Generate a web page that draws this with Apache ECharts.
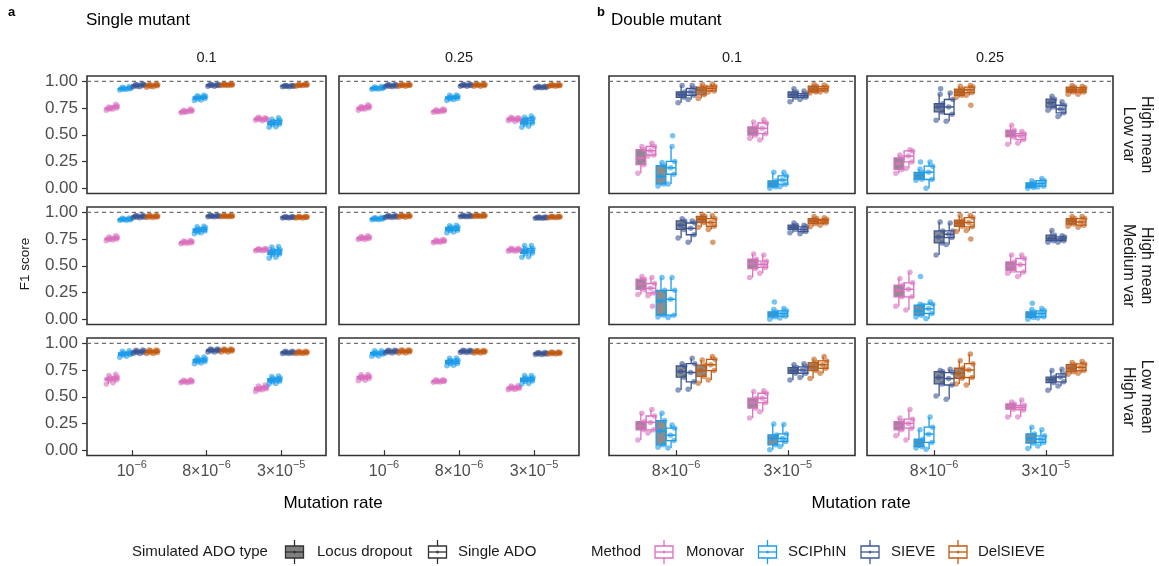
<!DOCTYPE html>
<html>
<head>
<meta charset="utf-8">
<script src="https://cdn.jsdelivr.net/npm/echarts@6/dist/echarts.min.js"></script>
<style>
  html, body { margin: 0; padding: 0; background: #fff; }
  #chart { width: 1159px; height: 566px; }
</style>
</head>
<body>
<div id="chart"></div>
<script>
// ---- categories -------------------------------------------------------
const methods = ['Monovar', 'SCIPhIN', 'SIEVE', 'DelSIEVE'];
const methodColors = ['#DA70BE', '#1B9CEB', '#3C5592', '#C15A12'];
const adoTypes = ['Locus dropout', 'Single ADO'];
const noiseSettings = [['High mean', 'Low var'], ['High mean', 'Medium var'], ['Low mean', 'High var']];
const depthLabels = ['0.1', '0.25'];
const singleRates = [['10', '−6'], ['8×10', '−6'], ['3×10', '−5']];
const doubleRates = [['8×10', '−6'], ['3×10', '−5']];
const yTicks = [0, 0.25, 0.5, 0.75, 1];

// ---- F1 score box statistics: per mutation rate, 8 boxes
// (Monovar LD, Monovar SA, SCIPhIN LD, SCIPhIN SA, SIEVE LD, SIEVE SA, DelSIEVE LD, DelSIEVE SA)
// each box = [lower whisker, Q1, median, Q3, upper whisker]

// Single mutant
const s_hm_lv_01 = [
  [[0.73,0.74,0.745,0.75,0.76],[0.74,0.75,0.76,0.77,0.785],[0.92,0.925,0.93,0.935,0.945],[0.925,0.93,0.935,0.94,0.95],[0.95,0.955,0.96,0.965,0.97],[0.95,0.96,0.965,0.97,0.975],[0.945,0.955,0.96,0.965,0.97],[0.95,0.958,0.963,0.968,0.975]],
  [[0.705,0.71,0.715,0.72,0.73],[0.715,0.72,0.725,0.73,0.74],[0.82,0.835,0.845,0.855,0.865],[0.825,0.84,0.85,0.86,0.87],[0.955,0.96,0.963,0.967,0.972],[0.955,0.96,0.964,0.968,0.973],[0.96,0.963,0.967,0.97,0.976],[0.96,0.964,0.968,0.972,0.978]],
  [[0.635,0.642,0.65,0.655,0.665],[0.63,0.64,0.645,0.65,0.66],[0.57,0.595,0.61,0.625,0.645],[0.575,0.6,0.615,0.635,0.66],[0.95,0.953,0.956,0.959,0.962],[0.95,0.953,0.956,0.959,0.962],[0.955,0.96,0.963,0.966,0.97],[0.96,0.963,0.967,0.97,0.975]]
];
const s_hm_lv_025 = [
  [[0.73,0.74,0.748,0.755,0.765],[0.74,0.75,0.758,0.768,0.78],[0.925,0.93,0.935,0.94,0.948],[0.928,0.933,0.938,0.943,0.952],[0.95,0.955,0.96,0.965,0.97],[0.95,0.955,0.96,0.965,0.97],[0.955,0.96,0.963,0.967,0.972],[0.955,0.96,0.963,0.967,0.972]],
  [[0.71,0.715,0.72,0.725,0.735],[0.715,0.72,0.727,0.733,0.742],[0.82,0.835,0.845,0.855,0.87],[0.83,0.84,0.85,0.86,0.872],[0.955,0.96,0.963,0.967,0.972],[0.955,0.96,0.963,0.967,0.972],[0.955,0.96,0.965,0.97,0.975],[0.955,0.96,0.965,0.97,0.975]],
  [[0.63,0.64,0.648,0.655,0.665],[0.625,0.635,0.645,0.652,0.66],[0.57,0.6,0.625,0.645,0.665],[0.58,0.61,0.635,0.655,0.675],[0.94,0.943,0.946,0.949,0.953],[0.94,0.943,0.946,0.949,0.953],[0.955,0.958,0.962,0.966,0.97],[0.955,0.958,0.962,0.966,0.97]]
];
const s_hm_mv_01 = [
  [[0.735,0.745,0.75,0.758,0.77],[0.74,0.75,0.758,0.768,0.78],[0.925,0.93,0.934,0.938,0.945],[0.925,0.93,0.935,0.94,0.948],[0.95,0.955,0.96,0.965,0.97],[0.95,0.955,0.96,0.965,0.97],[0.952,0.957,0.962,0.966,0.972],[0.952,0.957,0.962,0.966,0.972]],
  [[0.705,0.712,0.718,0.724,0.732],[0.71,0.716,0.722,0.728,0.736],[0.8,0.815,0.83,0.845,0.865],[0.81,0.825,0.84,0.855,0.87],[0.958,0.962,0.965,0.968,0.972],[0.958,0.962,0.965,0.968,0.972],[0.958,0.962,0.965,0.968,0.973],[0.958,0.962,0.965,0.968,0.973]],
  [[0.64,0.645,0.65,0.655,0.66],[0.64,0.645,0.65,0.656,0.662],[0.57,0.605,0.625,0.645,0.675],[0.58,0.61,0.63,0.65,0.68],[0.948,0.951,0.953,0.956,0.959],[0.948,0.951,0.953,0.956,0.959],[0.948,0.952,0.955,0.958,0.962],[0.948,0.952,0.955,0.958,0.962]]
];
const s_hm_mv_025 = [
  [[0.745,0.752,0.758,0.765,0.775],[0.745,0.755,0.762,0.77,0.78],[0.93,0.935,0.94,0.944,0.95],[0.932,0.937,0.941,0.946,0.952],[0.952,0.957,0.962,0.966,0.97],[0.952,0.957,0.962,0.966,0.97],[0.955,0.96,0.965,0.968,0.972],[0.955,0.96,0.965,0.968,0.972]],
  [[0.715,0.722,0.728,0.734,0.742],[0.72,0.726,0.732,0.738,0.745],[0.81,0.83,0.845,0.86,0.875],[0.815,0.832,0.848,0.862,0.878],[0.958,0.962,0.965,0.968,0.972],[0.958,0.962,0.965,0.968,0.972],[0.96,0.964,0.968,0.971,0.975],[0.96,0.964,0.968,0.971,0.975]],
  [[0.635,0.642,0.65,0.656,0.665],[0.635,0.642,0.648,0.655,0.662],[0.58,0.615,0.635,0.655,0.69],[0.585,0.62,0.64,0.66,0.69],[0.945,0.948,0.95,0.953,0.956],[0.945,0.948,0.95,0.953,0.956],[0.95,0.953,0.957,0.96,0.964],[0.95,0.953,0.957,0.96,0.964]]
];
const s_lm_hv_01 = [
  [[0.62,0.655,0.665,0.675,0.7],[0.63,0.66,0.672,0.685,0.71],[0.87,0.89,0.9,0.91,0.925],[0.88,0.895,0.905,0.915,0.93],[0.905,0.915,0.92,0.928,0.935],[0.905,0.915,0.922,0.93,0.937],[0.905,0.915,0.922,0.93,0.937],[0.905,0.915,0.922,0.93,0.937]],
  [[0.63,0.637,0.642,0.648,0.655],[0.632,0.638,0.644,0.65,0.658],[0.81,0.825,0.837,0.85,0.87],[0.815,0.83,0.842,0.855,0.872],[0.92,0.928,0.935,0.94,0.948],[0.92,0.928,0.935,0.94,0.948],[0.92,0.928,0.935,0.94,0.948],[0.92,0.928,0.935,0.94,0.948]],
  [[0.55,0.565,0.575,0.585,0.6],[0.565,0.575,0.585,0.595,0.61],[0.62,0.64,0.655,0.67,0.69],[0.625,0.645,0.66,0.675,0.695],[0.905,0.91,0.915,0.92,0.926],[0.905,0.91,0.915,0.92,0.926],[0.905,0.91,0.915,0.92,0.925],[0.905,0.91,0.915,0.92,0.925]]
];
const s_lm_hv_025 = [
  [[0.65,0.67,0.68,0.69,0.705],[0.655,0.672,0.682,0.692,0.708],[0.88,0.895,0.905,0.915,0.93],[0.882,0.897,0.907,0.917,0.93],[0.91,0.918,0.923,0.93,0.936],[0.91,0.918,0.923,0.93,0.936],[0.91,0.918,0.925,0.932,0.938],[0.91,0.918,0.925,0.932,0.938]],
  [[0.635,0.64,0.645,0.65,0.658],[0.637,0.642,0.647,0.652,0.66],[0.79,0.81,0.825,0.84,0.86],[0.795,0.812,0.827,0.842,0.862],[0.915,0.92,0.925,0.93,0.935],[0.915,0.92,0.925,0.93,0.935],[0.91,0.917,0.922,0.928,0.934],[0.91,0.917,0.922,0.928,0.934]],
  [[0.565,0.575,0.582,0.59,0.6],[0.568,0.578,0.585,0.592,0.602],[0.62,0.645,0.66,0.675,0.7],[0.625,0.648,0.662,0.678,0.7],[0.895,0.9,0.905,0.91,0.915],[0.895,0.9,0.905,0.91,0.915],[0.9,0.905,0.91,0.915,0.92],[0.9,0.905,0.91,0.915,0.92]]
];

// Double mutant
const d_hm_lv_01 = [
  [[0.14,0.22,0.28,0.36,0.39],[0.30,0.31,0.35,0.39,0.42],[0.02,0.04,0.11,0.21,0.24],[0.04,0.13,0.19,0.25,0.39],[0.80,0.85,0.876,0.90,0.96],[0.83,0.87,0.90,0.933,0.96],[0.84,0.874,0.917,0.946,0.97],[0.90,0.91,0.935,0.955,0.975]],
  [[0.465,0.496,0.54,0.574,0.62],[0.45,0.51,0.56,0.61,0.64],[0.0,0.013,0.04,0.069,0.15],[0.013,0.037,0.076,0.115,0.15],[0.81,0.85,0.875,0.90,0.93],[0.83,0.85,0.866,0.885,0.91],[0.89,0.90,0.925,0.954,0.97],[0.90,0.91,0.93,0.95,0.965]]
];
const d_hm_lv_025 = [
  [[0.14,0.175,0.23,0.284,0.31],[0.185,0.246,0.30,0.349,0.36],[0.075,0.084,0.117,0.147,0.18],[0.0,0.081,0.15,0.206,0.245],[0.636,0.714,0.76,0.79,0.88],[0.627,0.692,0.76,0.83,0.89],[0.85,0.87,0.90,0.926,0.954],[0.87,0.895,0.92,0.946,0.96]],
  [[0.41,0.48,0.515,0.543,0.59],[0.42,0.455,0.49,0.51,0.53],[0.0,0.006,0.028,0.05,0.07],[0.01,0.019,0.044,0.07,0.09],[0.73,0.76,0.80,0.833,0.86],[0.67,0.705,0.74,0.776,0.81],[0.88,0.90,0.92,0.946,0.96],[0.88,0.90,0.92,0.94,0.955]]
];
const d_hm_mv_01 = [
  [[0.23,0.278,0.33,0.374,0.40],[0.22,0.246,0.29,0.334,0.39],[0.02,0.037,0.17,0.27,0.39],[0.016,0.037,0.186,0.27,0.39],[0.76,0.84,0.88,0.92,0.94],[0.72,0.79,0.85,0.90,0.92],[0.86,0.904,0.935,0.963,0.98],[0.84,0.87,0.905,0.942,0.97]],
  [[0.39,0.474,0.52,0.561,0.61],[0.43,0.484,0.513,0.543,0.60],[0.0,0.022,0.046,0.068,0.09],[0.01,0.028,0.053,0.078,0.10],[0.81,0.84,0.86,0.88,0.90],[0.80,0.82,0.84,0.864,0.88],[0.864,0.895,0.92,0.942,0.96],[0.88,0.90,0.92,0.935,0.95]]
];
const d_hm_mv_025 = [
  [[0.122,0.209,0.27,0.318,0.38],[0.085,0.209,0.28,0.34,0.44],[0.02,0.037,0.078,0.13,0.14],[0.005,0.053,0.097,0.14,0.16],[0.60,0.714,0.77,0.826,0.91],[0.70,0.764,0.795,0.826,0.90],[0.82,0.87,0.90,0.926,0.97],[0.83,0.864,0.905,0.95,0.97]],
  [[0.43,0.458,0.50,0.536,0.60],[0.40,0.442,0.51,0.568,0.60],[0.0,0.016,0.043,0.068,0.09],[0.01,0.022,0.053,0.078,0.10],[0.72,0.735,0.755,0.786,0.83],[0.72,0.735,0.75,0.77,0.78],[0.87,0.89,0.92,0.942,0.96],[0.86,0.88,0.91,0.942,0.96]]
];
const d_lm_hv_01 = [
  [[0.096,0.19,0.227,0.268,0.345],[0.16,0.19,0.26,0.32,0.38],[0.028,0.05,0.18,0.277,0.345],[0.02,0.09,0.14,0.206,0.236],[0.563,0.683,0.736,0.788,0.81],[0.57,0.64,0.727,0.81,0.86],[0.626,0.69,0.745,0.797,0.845],[0.657,0.745,0.80,0.85,0.876]],
  [[0.30,0.393,0.445,0.486,0.55],[0.36,0.445,0.486,0.533,0.557],[0.003,0.05,0.11,0.143,0.245],[0.034,0.081,0.11,0.152,0.24],[0.657,0.72,0.745,0.773,0.80],[0.68,0.72,0.75,0.78,0.81],[0.67,0.745,0.78,0.82,0.85],[0.72,0.767,0.80,0.835,0.876]]
];
const d_lm_hv_025 = [
  [[0.134,0.19,0.23,0.268,0.30],[0.096,0.206,0.25,0.29,0.38],[0.02,0.034,0.072,0.103,0.19],[0.009,0.072,0.15,0.215,0.31],[0.508,0.62,0.68,0.735,0.745],[0.477,0.61,0.67,0.726,0.757],[0.62,0.673,0.72,0.767,0.838],[0.61,0.68,0.75,0.81,0.90]],
  [[0.31,0.384,0.41,0.433,0.45],[0.31,0.377,0.40,0.42,0.47],[0.015,0.065,0.11,0.152,0.215],[0.04,0.072,0.103,0.134,0.19],[0.56,0.633,0.66,0.683,0.745],[0.60,0.64,0.685,0.714,0.757],[0.71,0.735,0.767,0.80,0.82],[0.72,0.745,0.776,0.807,0.83]]
];

// Points lying outside the whiskers: [double-mutant facet, rate index, box index, F1]
const doubleOutliers = [
  [0, 0, 3, 0.49],
  [1, 0, 2, 0.245], [1, 0, 4, 0.93], [1, 0, 7, 0.776],
  [2, 0, 1, 0.12], [2, 0, 7, 0.72], [2, 1, 2, 0.16],
  [3, 0, 2, 0.40], [3, 0, 7, 0.75], [3, 1, 2, 0.15]
];

// ---- layout -----------------------------------------------------------
const FONT = '"Liberation Sans", Arial, Helvetica, sans-serif';
const facetStats = [s_hm_lv_01, s_hm_lv_025, s_hm_mv_01, s_hm_mv_025, s_lm_hv_01, s_lm_hv_025,
                    d_hm_lv_01, d_hm_lv_025, d_hm_mv_01, d_hm_mv_025, d_lm_hv_01, d_lm_hv_025];
const colLeft = [[87, 339], [609, 867]];
const colWidth = [[239, 240], [246, 246]];
const rowTop = [76, 207, 338];
const rowH = 117.5;
const dodgeStep = 0.09;
const jitterPattern = [-0.3, 0.28, -0.05, 0.36, 0.1];

const grids = [], xAxes = [], yAxes = [], series = [];

facetStats.forEach((stats, f) => {
  const panel = f < 6 ? 0 : 1;
  const k = f % 6, row = Math.floor(k / 2), col = k % 2;
  const rates = panel === 0 ? singleRates : doubleRates;
  const xMax = rates.length + 0.6;
  const bottom = row === 2;
  const leftAxis = panel === 0 && col === 0;

  grids.push({
    left: colLeft[panel][col], top: rowTop[row], width: colWidth[panel][col], height: rowH,
    show: true, borderColor: '#333333', borderWidth: 1.6, backgroundColor: '#fff'
  });
  xAxes.push({
    gridIndex: f, type: 'value', min: 0.4, max: xMax,
    axisLine: { show: false }, splitLine: { show: false },
    axisTick: { show: bottom, customValues: rates.map((r, i) => i + 1), length: 5, lineStyle: { color: '#333', width: 1.2 } },
    axisLabel: {
      show: bottom, customValues: rates.map((r, i) => i + 1), margin: 4,
      formatter: v => { const r = rates[Math.round(v) - 1]; return r ? `{b|${r[0]}}{s|${r[1]}}` : ''; },
      rich: {
        b: { fontSize: 16, color: '#4D4D4D', fontFamily: FONT, lineHeight: 20, verticalAlign: 'bottom' },
        s: { fontSize: 11, color: '#4D4D4D', fontFamily: FONT, lineHeight: 8, verticalAlign: 'top' }
      }
    }
  });
  yAxes.push({
    gridIndex: f, type: 'value', min: -0.05, max: 1.05,
    axisLine: { show: false }, splitLine: { show: false },
    axisTick: { show: leftAxis, customValues: yTicks, length: 5, lineStyle: { color: '#333', width: 1.2 } },
    axisLabel: {
      show: leftAxis, customValues: yTicks, formatter: v => v.toFixed(2),
      fontSize: 17, color: '#4D4D4D', fontFamily: FONT, margin: 9
    }
  });

  // reference line at perfect F1
  series.push({
    type: 'line', xAxisIndex: f, yAxisIndex: f, silent: true, symbol: 'none', z: 1,
    data: [[0.4, 1], [xMax, 1]],
    lineStyle: { color: '#707070', width: 1.1, type: [4, 3.5] }
  });

  const boxes = [], points = [];
  stats.forEach((rateBoxes, r) => {
    rateBoxes.forEach((b, bi) => {
      const x = r + 1 + (bi - 3.5) * dodgeStep;
      const m = Math.floor(bi / 2), a = bi % 2;
      boxes.push([x, b[0], b[1], b[2], b[3], b[4], m, a]);
      b.forEach((v, j) => {
        points.push({ value: [x + jitterPattern[j] * dodgeStep, v], itemStyle: { color: methodColors[m] } });
      });
    });
  });
  if (panel === 1) {
    doubleOutliers.filter(o => o[0] === f - 6).forEach(o => {
      const x = o[1] + 1 + (o[2] - 3.5) * dodgeStep;
      points.push({ value: [x + 0.15 * dodgeStep, o[3]], itemStyle: { color: methodColors[Math.floor(o[2] / 2)] } });
    });
  }

  series.push({
    type: 'custom', xAxisIndex: f, yAxisIndex: f, z: 2, silent: true,
    encode: { x: 0, y: [1, 2, 3, 4, 5] },
    data: boxes,
    renderItem: (params, api) => {
      const x = api.value(0);
      const px = api.coord([x, 0])[0];
      const yLo = api.coord([x, api.value(1)])[1];
      const yQ1 = api.coord([x, api.value(2)])[1];
      const yMed = api.coord([x, api.value(3)])[1];
      const yQ3 = api.coord([x, api.value(4)])[1];
      const yHi = api.coord([x, api.value(5)])[1];
      const w = api.size([dodgeStep, 0])[0] * 0.96;
      const color = methodColors[api.value(6)];
      const fill = api.value(7) === 0 ? '#8C8C8C' : '#ffffff';
      const ls = { stroke: color, lineWidth: 1.3 };
      return {
        type: 'group',
        children: [
          { type: 'line', shape: { x1: px, y1: yHi, x2: px, y2: yQ3 }, style: ls },
          { type: 'line', shape: { x1: px, y1: yQ1, x2: px, y2: yLo }, style: ls },
          { type: 'rect', shape: { x: px - w / 2, y: yQ3, width: w, height: Math.max(yQ1 - yQ3, 0.5) },
            style: { stroke: color, lineWidth: 1.3, fill: fill } },
          { type: 'line', shape: { x1: px - w / 2, y1: yMed, x2: px + w / 2, y2: yMed }, style: { stroke: color, lineWidth: 1.5 } }
        ]
      };
    }
  });
  series.push({
    type: 'scatter', xAxisIndex: f, yAxisIndex: f, z: 3, silent: true,
    symbolSize: 5.5, itemStyle: { opacity: 0.6 },
    data: points
  });
});

// ---- text and legend --------------------------------------------------
const graphics = [];
const txt = (x, y, text, opt = {}) => graphics.push({
  type: 'text', x, y, rotation: opt.rotation || 0, silent: true,
  style: {
    text, fontFamily: FONT, fontSize: opt.size || 15, fontWeight: opt.weight || 'normal',
    fill: opt.color || '#1a1a1a', align: opt.align || 'left', verticalAlign: 'middle',
    lineHeight: opt.lineHeight
  }
});

txt(8, 12, 'a', { size: 13, weight: 'bold', color: '#000' });
txt(86, 20, 'Single mutant', { size: 17, color: '#000' });
txt(597, 12, 'b', { size: 13, weight: 'bold', color: '#000' });
txt(611, 20, 'Double mutant', { size: 17, color: '#000' });

[0, 1].forEach(panel => [0, 1].forEach(col => {
  txt(colLeft[panel][col] + colWidth[panel][col] / 2, 58, depthLabels[col], { size: 14.5, align: 'center' });
}));
noiseSettings.forEach((lines, row) => {
  txt(1137, rowTop[row] + rowH / 2, lines.join('\n'), { size: 16, align: 'center', rotation: -Math.PI / 2, lineHeight: 18 });
});
txt(25, 264, 'F1 score', { size: 13.5, align: 'center', rotation: Math.PI / 2 });
txt(333, 503, 'Mutation rate', { size: 17, align: 'center', color: '#000' });
txt(861, 503, 'Mutation rate', { size: 17, align: 'center', color: '#000' });

// legend keys: a small box-and-whisker glyph
const legendY = 552;
const key = (cx, stroke, fill) => {
  const ls = { stroke, lineWidth: 1.3 };
  graphics.push({ type: 'line', silent: true, shape: { x1: cx, y1: legendY - 12, x2: cx, y2: legendY - 6 }, style: ls });
  graphics.push({ type: 'line', silent: true, shape: { x1: cx, y1: legendY + 6, x2: cx, y2: legendY + 12 }, style: ls });
  graphics.push({ type: 'rect', silent: true, shape: { x: cx - 9, y: legendY - 6, width: 18, height: 12 }, style: { stroke, lineWidth: 1.3, fill } });
  graphics.push({ type: 'line', silent: true, shape: { x1: cx - 9, y1: legendY, x2: cx + 9, y2: legendY }, style: ls });
  graphics.push({ type: 'circle', silent: true, shape: { cx, cy: legendY, r: 1.5 }, style: { fill: stroke, opacity: 0.8 } });
};

txt(132, legendY, 'Simulated ADO type', { size: 15 });
key(294.5, '#333333', '#808080'); txt(317, legendY, adoTypes[0], { size: 15 });
key(437.5, '#333333', '#ffffff'); txt(458, legendY, adoTypes[1], { size: 15 });

txt(591, legendY, 'Method', { size: 15 });
const methodKeyX = [664, 767.5, 870, 958];
const methodTextX = [686, 788, 891, 978];
methods.forEach((m, i) => {
  key(methodKeyX[i], methodColors[i], '#ffffff');
  txt(methodTextX[i], legendY, m, { size: 15 });
});

const chart = echarts.init(document.getElementById('chart'), null, { renderer: 'canvas' });
chart.setOption({
  animation: false,
  backgroundColor: '#ffffff',
  grid: grids,
  xAxis: xAxes,
  yAxis: yAxes,
  series: series,
  graphic: graphics
});
</script>
</body>
</html>
